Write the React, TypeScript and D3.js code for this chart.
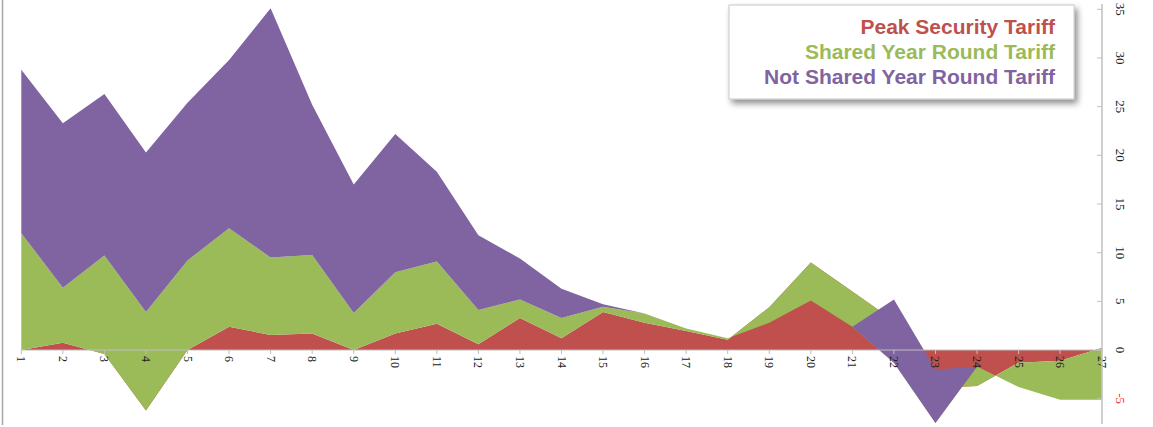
import React from "react";
import * as d3 from "d3";

// zones 1..27, values (Excel-style stacked area: peak, shared, not shared)
const zones = ["1", "2", "3", "4", "5", "6", "7", "8", "9", "10", "11", "12", "13", "14", "15", "16", "17", "18", "19", "20", "21", "22", "23", "24", "25", "26", "27"];
const peakSecurity = [0, 0.75, -0.4, -6.2, 0, 2.4, 1.55, 1.7, 0, 1.7, 2.7, 0.6, 3.3, 1.2, 3.9, 2.8, 1.95, 1.05, 4.4, 9.0, 6.0, 3.0, -3.9, -3.7, -1.3, -1.1, 0.2];
const sharedYearRound = [12.0, 5.65, 10.1, 10.1, 9.2, 10.1, 7.95, 8.05, 3.8, 6.3, 6.4, 3.5, 1.9, 2.1, 0.55, 0.95, 0.25, 0.15, -1.6, -3.9, -3.6, -4.3, -3.6, 2.0, -2.5, -4.0, -5.3];
const notSharedYearRound = [16.8, 16.9, 16.6, 16.4, 16.2, 17.3, 25.6, 15.45, 13.2, 14.2, 9.2, 7.7, 4.2, 3.0, 0.25, 0, 0, 0, 0, 0, 0, 6.5, 5.5, 0, 0, 0, 0];
const yTicks = [35, 30, 25, 20, 15, 10, 5, 0, -5];

const legendItems = [
  { key: "peak", label: "Peak Security Tariff", color: "#C0504D" },
  { key: "shared", label: "Shared Year Round Tariff", color: "#9BBB59" },
  { key: "notShared", label: "Not Shared Year Round Tariff", color: "#8064A2" },
];

const W = 1153;
const H = 427;

export default function App() {
  const x = d3.scalePoint<string>().domain(zones).range([21.3, 1101.7]);
  const y = d3.scaleLinear().domain([-5, 35]).range([398.7, 9.3]);

  const rows = zones.map((z, i) => ({
    zone: z,
    peak: peakSecurity[i],
    shared: sharedYearRound[i],
    notShared: notSharedYearRound[i],
  }));

  const series = d3
    .stack<any>()
    .keys(["peak", "shared", "notShared"])
    .order(d3.stackOrderNone)
    .offset(d3.stackOffsetNone)(rows);

  const area = d3
    .area<any>()
    .x((d) => x(d.data.zone) as number)
    .y0((d) => y(d[0]))
    .y1((d) => y(d[1]));

  const colorOf: Record<string, string> = {};
  legendItems.forEach((l) => (colorOf[l.key] = l.color));

  const axisX = 1102;
  const y0 = y(0);

  return (
    <div style={{ position: "fixed", left: 0, top: 0 }}>
      <svg width={W} height={H} style={{ display: "block", background: "#fff" }}>
        <defs>
          <filter id="shadow" x="-10%" y="-20%" width="125%" height="150%">
            <feDropShadow dx="3" dy="4" stdDeviation="3" floodColor="#000" floodOpacity="0.45" />
          </filter>
        </defs>

        {/* left frame line */}
        <line x1={2.5} x2={2.5} y1={0} y2={425} stroke="#a6a6a6" strokeWidth={1.5} />

        {series.map((s) => (
          <path key={s.key} d={area(s) || ""} fill={colorOf[s.key]} />
        ))}

        {/* category axis at zero */}
        <line x1={x("1")} x2={axisX} y1={y0} y2={y0} stroke="#bfbfbf" strokeWidth={1} />
        {zones.map((z) => (
          <g key={z}>
            <line x1={x(z)} x2={x(z)} y1={y0} y2={y0 + 4} stroke="#bfbfbf" strokeWidth={1} />
            <text
              transform={`translate(${x(z)},${y0 + 6}) rotate(90)`}
              textAnchor="start"
              dominantBaseline="central"
              fontFamily="'Liberation Serif', 'DejaVu Serif', serif"
              fontSize={12}
              fill="#222"
            >
              {z}
            </text>
          </g>
        ))}

        {/* value axis on the right */}
        <line x1={axisX} x2={axisX} y1={4} y2={424} stroke="#bfbfbf" strokeWidth={1.5} />
        {yTicks.map((t) => (
          <g key={t}>
            <line x1={axisX - 5} x2={axisX} y1={y(t)} y2={y(t)} stroke="#bfbfbf" strokeWidth={1} />
            <text
              transform={`translate(1120,${y(t)}) rotate(90)`}
              textAnchor="middle"
              dominantBaseline="central"
              fontFamily="'Liberation Serif', 'DejaVu Serif', serif"
              fontSize={13}
              fill={t < 0 ? "#ff2a2a" : "#222"}
            >
              {t}
            </text>
          </g>
        ))}

        {/* legend */}
        <rect x={729} y={5} width={345} height={94} fill="#fff" stroke="#c8c8c8" strokeWidth={1} filter="url(#shadow)" />
        {legendItems.map((l, i) => (
          <text
            key={l.key}
            x={1055}
            y={34 + i * 25}
            textAnchor="end"
            fontFamily="'Liberation Sans', Arial, sans-serif"
            fontWeight="bold"
            fontSize={21}
            fill={l.color}
          >
            {l.label}
          </text>
        ))}
      </svg>
    </div>
  );
}
